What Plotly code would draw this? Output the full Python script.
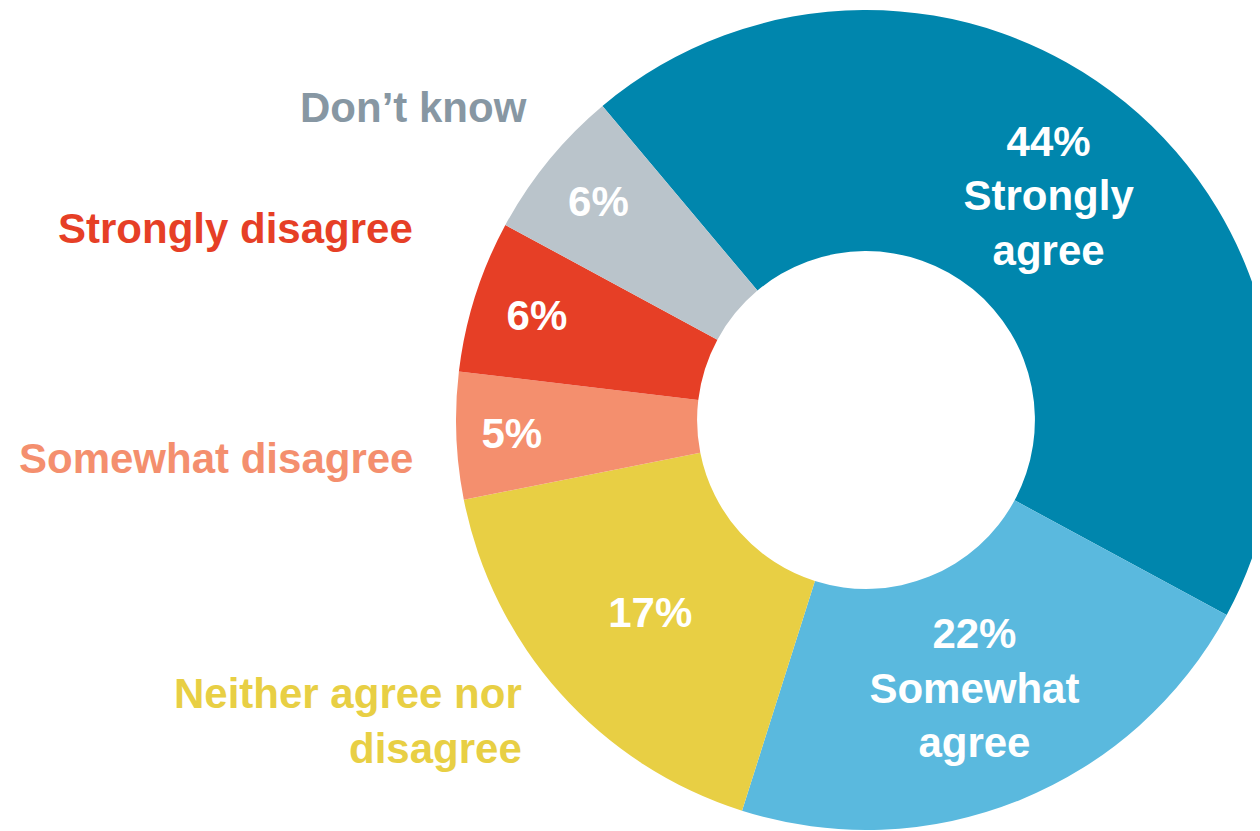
import plotly.graph_objects as go

categories = ["Strongly agree", "Somewhat agree", "Neither agree nor disagree",
              "Somewhat disagree", "Strongly disagree", "Don't know"]
values = [44, 22, 17, 5, 6, 6]
inside_names = ["Strongly<br>agree", "Somewhat<br>agree", "", "", "", ""]
slice_colors = ["#0086AD", "#5AB9DE", "#E8CF44", "#F48F6E", "#E63F26", "#BAC4CB"]

outside_labels = ["Don\u2019t know", "Strongly disagree", "Somewhat disagree",
                  "Neither agree nor<br>disagree"]
outside_colors = ["#8797A3", "#E63F26", "#F48F6E", "#E8CF44"]
outside_x = [529, 415, 415, 524]      # right edge, page pixels
outside_y = [108, 229, 458, 721]      # vertical centre, page pixels

# page is rendered with the default 8px body margin
OFF = 8
W, H = 1300, 845
FONT = "Liberation Sans, Arial, sans-serif"

# pie centre / radius in page pixels
CX, CY, R = 866, 420, 410
fx, fy = CX - OFF, CY - OFF
dom_x = [(fx - R) / W, (fx + R) / W]
dom_y = [1 - (fy + R) / H, 1 - (fy - R) / H]

texts = []
for v, n in zip(values, inside_names):
    texts.append(f"{v}%" + (f"<br>{n}" if n else ""))

fig = go.Figure(go.Pie(
    labels=categories,
    values=values,
    text=texts,
    textinfo="text",
    textposition="inside",
    insidetextorientation="horizontal",
    sort=False,
    direction="clockwise",
    rotation=-40,
    hole=0.412,
    marker=dict(colors=slice_colors, line=dict(width=0)),
    textfont=dict(family=FONT, size=42, color="white", weight="bold"),
    domain=dict(x=dom_x, y=dom_y),
    showlegend=False,
))

for lab, col, x, y in zip(outside_labels, outside_colors, outside_x, outside_y):
    fig.add_annotation(
        text=lab, x=(x - OFF) / W, y=1 - (y - OFF) / H, xref="paper", yref="paper",
        xanchor="right", yanchor="middle", align="right", showarrow=False,
        font=dict(family=FONT, size=42, color=col, weight="bold"),
    )

fig.update_layout(
    width=W, height=H,
    margin=dict(l=0, r=0, t=0, b=0),
    paper_bgcolor="white", plot_bgcolor="white",
    uniformtext=dict(minsize=42, mode="show"),
)

fig.write_html("out.html")
